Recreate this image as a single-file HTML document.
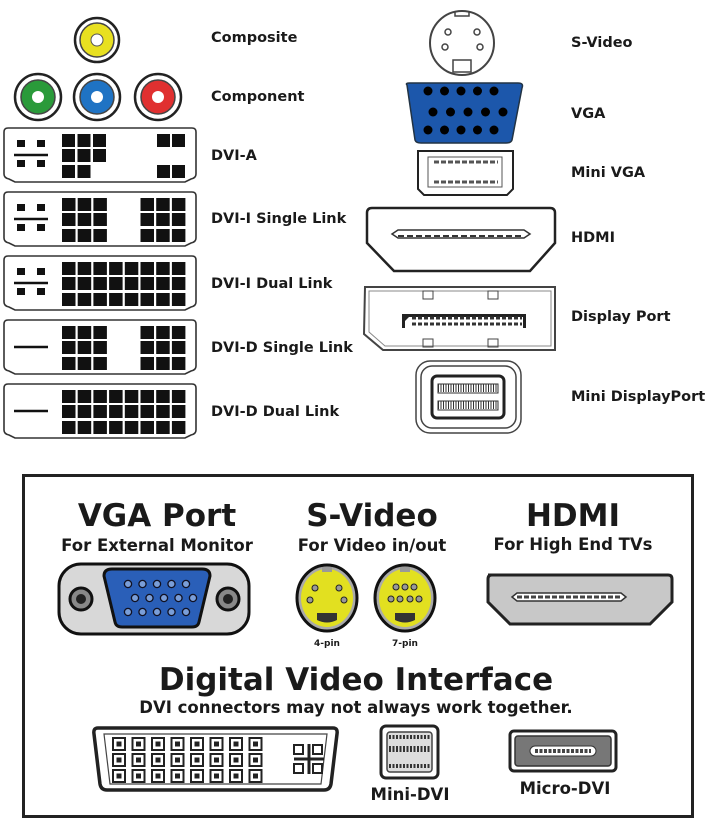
<!DOCTYPE html>
<html><head><meta charset="utf-8"><style>
html,body{margin:0;padding:0;background:#fff;width:711px;height:824px;overflow:hidden}
text{font-family:"DejaVu Sans","Liberation Sans",sans-serif;font-weight:bold;fill:#1a1a1a}
</style></head><body>
<svg id="s" width="711" height="824" viewBox="0 0 711 824" xmlns="http://www.w3.org/2000/svg">
<circle cx="97" cy="40" r="22" fill="#fff" stroke="#222" stroke-width="2.5"/>
<circle cx="97" cy="40" r="17" fill="#e8e020" stroke="#444" stroke-width="1.5"/>
<circle cx="97" cy="40" r="6" fill="#fff" stroke="#555"/>
<circle cx="38" cy="97" r="23" fill="#fff" stroke="#222" stroke-width="2.5"/>
<circle cx="38" cy="97" r="17" fill="#2a9a3a" stroke="#444" stroke-width="1.5"/>
<circle cx="38" cy="97" r="6" fill="#fff"/>
<circle cx="97" cy="97" r="23" fill="#fff" stroke="#222" stroke-width="2.5"/>
<circle cx="97" cy="97" r="17" fill="#1f73c4" stroke="#444" stroke-width="1.5"/>
<circle cx="97" cy="97" r="6" fill="#fff"/>
<circle cx="158" cy="97" r="23" fill="#fff" stroke="#222" stroke-width="2.5"/>
<circle cx="158" cy="97" r="17" fill="#e03030" stroke="#444" stroke-width="1.5"/>
<circle cx="158" cy="97" r="6" fill="#fff"/>
<g font-size="14.5">
<text x="211" y="42">Composite</text>
<text x="211" y="101">Component</text>
<text x="211" y="160">DVI-A</text>
<text x="211" y="223">DVI-I Single Link</text>
<text x="211" y="288">DVI-I Dual Link</text>
<text x="211" y="352">DVI-D Single Link</text>
<text x="211" y="416">DVI-D Dual Link</text>
<text x="571" y="47">S-Video</text>
<text x="571" y="118">VGA</text>
<text x="571" y="177">Mini VGA</text>
<text x="571" y="242">HDMI</text>
<text x="571" y="321">Display Port</text>
<text x="571" y="401">Mini DisplayPort</text>
</g>
<g id="dvi"></g>
<circle cx="462" cy="43" r="32" fill="#fff" stroke="#444" stroke-width="2"/>
<path d="M455 11 v5 h14 v-5" fill="none" stroke="#444" stroke-width="1.5"/>
<rect x="453" y="60" width="18" height="12" fill="none" stroke="#444" stroke-width="1.5"/>
<g fill="none" stroke="#444" stroke-width="1.5"><circle cx="448" cy="32" r="3"/><circle cx="477" cy="32" r="3"/><circle cx="445" cy="47" r="3"/><circle cx="480" cy="47" r="3"/></g>
<path d="M407 85 Q405 83 410 83 L518 83 Q524 83 522 88 L512 140 Q511 143 506 143 L421 143 Q416 143 415 140 Z" fill="#1c57ab" stroke="#234" stroke-width="1.5"/>
<g id="vgap"></g>
<path d="M418 151 h95 v38 l-6 6 h-83 l-6 -6 z" fill="#fff" stroke="#222" stroke-width="2"/>
<rect x="428" y="157" width="74" height="30" fill="none" stroke="#555"/>
<line x1="434" y1="162" x2="498" y2="162" stroke="#555" stroke-dasharray="5 2" stroke-width="3"/>
<line x1="434" y1="182" x2="498" y2="182" stroke="#555" stroke-dasharray="5 2" stroke-width="3"/>
<path d="M372 208 h178 q5 0 5 5 v30 l-25 28 h-136 l-27 -28 v-30 q0 -5 5 -5z" fill="#fff" stroke="#222" stroke-width="2.5"/>
<path d="M392 234 l6 -4 h126 l6 4 l-6 4 h-126z" fill="#fff" stroke="#333" stroke-width="1.5"/>
<line x1="398" y1="236" x2="524" y2="236" stroke="#333" stroke-width="2" stroke-dasharray="6 3"/>
<path d="M365 287 h190 v63 h-172 l-19 -16 z" fill="#fff" stroke="#444" stroke-width="2"/>
<path d="M369 291 h182 v55 h-166 l-16 -14 z" fill="none" stroke="#888" stroke-width="1"/>
<rect x="423" y="291" width="10" height="8" fill="none" stroke="#444"/><rect x="488" y="291" width="10" height="8" fill="none" stroke="#444"/>
<rect x="423" y="339" width="10" height="8" fill="none" stroke="#444"/><rect x="488" y="339" width="10" height="8" fill="none" stroke="#444"/>
<path d="M402 328 v-14 h124 v14 h-3 v-11 h-114 l-4 4 v7z" fill="#222"/>
<line x1="412" y1="318" x2="522" y2="318" stroke="#333" stroke-width="3" stroke-dasharray="4 2"/>
<line x1="412" y1="324" x2="522" y2="324" stroke="#333" stroke-width="3" stroke-dasharray="4 2"/>
<rect x="416" y="361" width="105" height="72" rx="14" fill="#fff" stroke="#444" stroke-width="1.5"/>
<rect x="421" y="366" width="95" height="62" rx="11" fill="none" stroke="#444" stroke-width="1.5"/>
<rect x="432" y="376" width="72" height="42" rx="5" fill="#fff" stroke="#222" stroke-width="3"/>
<rect x="438" y="384" width="60" height="9" fill="none" stroke="#333" stroke-width="1"/>
<rect x="438" y="401" width="60" height="9" fill="none" stroke="#333" stroke-width="1"/>
<line x1="438" y1="388" x2="498" y2="388" stroke="#333" stroke-width="8" stroke-dasharray="1 1.5"/>
<line x1="438" y1="405" x2="498" y2="405" stroke="#333" stroke-width="8" stroke-dasharray="1 1.5"/>

<rect x="23.5" y="475.5" width="669" height="341" fill="#fff" stroke="#222" stroke-width="3"/>
<g text-anchor="middle">
<text x="157" y="526" font-size="31">VGA Port</text>
<text x="372" y="526" font-size="31">S-Video</text>
<text x="573" y="526" font-size="31">HDMI</text>
<text x="157" y="551" font-size="16.5">For External Monitor</text>
<text x="372" y="551" font-size="16.5">For Video in/out</text>
<text x="573" y="550" font-size="16.5">For High End TVs</text>
<text x="327" y="646" font-size="9">4-pin</text>
<text x="405" y="646" font-size="9">7-pin</text>
<text x="356" y="690" font-size="31">Digital Video Interface</text>
<text x="356" y="713" font-size="16.5">DVI connectors may not always work together.</text>
<text x="410" y="800" font-size="16.5">Mini-DVI</text>
<text x="565" y="794" font-size="16.5">Micro-DVI</text>
</g>
<rect x="59" y="564" width="190" height="70" rx="22" fill="#d8d8d8" stroke="#111" stroke-width="3"/>
<circle cx="81" cy="599" r="11" fill="#888" stroke="#111" stroke-width="3"/><circle cx="81" cy="599" r="5" fill="#222"/>
<circle cx="228" cy="599" r="11" fill="#888" stroke="#111" stroke-width="3"/><circle cx="228" cy="599" r="5" fill="#222"/>
<path d="M104 576 q0 -7 8 -7 h90 q8 0 8 7 l-11 46 q-1 5 -7 5 h-70 q-6 0 -7 -5z" fill="#2a5fb8" stroke="#111" stroke-width="3"/>
<g id="vgab"></g>
<g id="sv"></g>
<path d="M488 575 h180 q4 0 4 4 v23 l-22 22 h-140 l-22 -22 v-23 q0 -4 4 -4z" fill="#c8c8c8" stroke="#222" stroke-width="3"/>
<path d="M512 597 l5 -4 h104 l5 4 l-5 4 h-104z" fill="#fff" stroke="#333" stroke-width="1.5"/>
<line x1="517" y1="597" x2="621" y2="597" stroke="#444" stroke-width="3" stroke-dasharray="5 2"/>
<path d="M98 728 h235 q5 0 4 6 l-6 50 q-1 6 -7 6 h-217 q-6 0 -7 -6 l-6 -50 q-1 -6 4 -6z" fill="#fff" stroke="#222" stroke-width="3.5"/>
<path d="M104 734 h223 l-6 50 h-211 z" fill="none" stroke="#444" stroke-width="1.2"/>
<g id="dvib"></g>
<line x1="294" y1="759" x2="324" y2="759" stroke="#222" stroke-width="3"/>
<line x1="309" y1="744" x2="309" y2="774" stroke="#222" stroke-width="3"/>
<rect x="381" y="726" width="57" height="52" rx="5" fill="#fff" stroke="#222" stroke-width="3"/>
<rect x="387" y="732" width="45" height="40" rx="3" fill="#ddd" stroke="#444" stroke-width="1.5"/>
<line x1="389" y1="737" x2="430" y2="737" stroke="#333" stroke-width="4" stroke-dasharray="2 1.5"/>
<line x1="389" y1="749" x2="430" y2="749" stroke="#333" stroke-width="6" stroke-dasharray="2 1.5"/>
<line x1="389" y1="766" x2="430" y2="766" stroke="#333" stroke-width="4" stroke-dasharray="2 1.5"/>
<rect x="510" y="731" width="106" height="40" rx="4" fill="#fff" stroke="#222" stroke-width="3"/>
<rect x="515" y="736" width="96" height="30" rx="3" fill="#777" stroke="#333" stroke-width="1.5"/>
<rect x="530" y="746" width="66" height="10" rx="5" fill="#fff" stroke="#333"/>
<line x1="535" y1="751" x2="591" y2="751" stroke="#444" stroke-width="4" stroke-dasharray="3 1.5"/>
</svg>
<script>
var NS="http://www.w3.org/2000/svg";
function el(p,t,a){var e=document.createElementNS(NS,t);for(var k in a)e.setAttribute(k,a[k]);document.getElementById(p).appendChild(e);return e;}
var ys=[128,192,256,320,384];
ys.forEach(function(y,i){
 el("dvi","path",{d:"M8 "+y+" h184 q4 0 4 4 v42 q0 4 -5 5 l-6 3 h-170 l-6 -3 q-5 -1 -5 -5 v-42 q0 -4 4 -4z",fill:"#fff",stroke:"#333","stroke-width":"1.6"});
 var r=[y+6,y+21,y+37];
 if(i<3){[[17,y+12],[37,y+12],[17,y+32],[37,y+32]].forEach(function(p){el("dvi","rect",{x:p[0],y:p[1],width:8,height:7,fill:"#111"});});}
 el("dvi","line",{x1:14,y1:y+27,x2:48,y2:y+27,stroke:"#111","stroke-width":"2.5"});
 var cols;
 if(i==0){[[0,0],[1,0],[2,0],[0,1],[1,1],[2,1],[0,2],[1,2]].forEach(function(c){el("dvi","rect",{x:62+c[0]*15.5,y:r[c[1]],width:13,height:13,fill:"#111"});});
   [[157,r[0]],[172,r[0]],[157,r[2]],[172,r[2]]].forEach(function(p){el("dvi","rect",{x:p[0],y:p[1],width:13,height:13,fill:"#111"});});}
 else{
  cols=(i==1||i==3)?[0,1,2,5,6,7]:[0,1,2,3,4,5,6,7];
  cols.forEach(function(c){r.forEach(function(yy){el("dvi","rect",{x:62+c*15.7,y:yy,width:13.5,height:13,fill:"#111"});});});
 }
});
for(var k=0;k<5;k++){el("vgap","circle",{cx:428+k*16.5,cy:91,r:4.5,fill:"#000"});el("vgap","circle",{cx:433+k*17.5,cy:112,r:4.5,fill:"#000"});el("vgap","circle",{cx:428+k*16.5,cy:130,r:4.5,fill:"#000"});}
for(var k=0;k<5;k++){el("vgab","circle",{cx:128+k*14.5,cy:584,r:3.6,fill:"#7a9ed8",stroke:"#112","stroke-width":"1.3"});el("vgab","circle",{cx:135+k*14.5,cy:598,r:3.6,fill:"#7a9ed8",stroke:"#112","stroke-width":"1.3"});el("vgab","circle",{cx:128+k*14.5,cy:612,r:3.6,fill:"#7a9ed8",stroke:"#112","stroke-width":"1.3"});}
[[327,[[-12,-10],[12,-10],[-17,2],[17,2]]],[405,[[-9,-11],[0,-11],[9,-11],[-14,1],[-5,1],[5,1],[14,1]]]].forEach(function(s){
 var cx=s[0],cy=598;
 el("sv","ellipse",{cx:cx,cy:cy,rx:30,ry:33,fill:"#aaa",stroke:"#111","stroke-width":"3"});
 el("sv","ellipse",{cx:cx,cy:cy,rx:26,ry:29,fill:"#e2e020"});
 el("sv","rect",{x:cx-5,y:567,width:10,height:5,fill:"#999"});
 el("sv","path",{d:"M"+(cx-10)+" 613 h20 v7 q-10 5 -20 0z",fill:"#333"});
 s[1].forEach(function(p){el("sv","circle",{cx:cx+p[0],cy:cy+p[1],r:3,fill:"#999",stroke:"#222"});});
});
for(var c=0;c<8;c++)for(var rr=0;rr<3;rr++){el("dvib","rect",{x:113+c*19.5,y:738+rr*16,width:12,height:12,fill:"#fff",stroke:"#222","stroke-width":"2"});el("dvib","rect",{x:116.5+c*19.5,y:741.5+rr*16,width:5,height:5,fill:"#222"});}
[[294,745],[313,745],[294,764],[313,764]].forEach(function(p){el("dvib","rect",{x:p[0],y:p[1],width:9,height:9,fill:"#fff",stroke:"#222","stroke-width":"2"});});
</script>
</body></html>
